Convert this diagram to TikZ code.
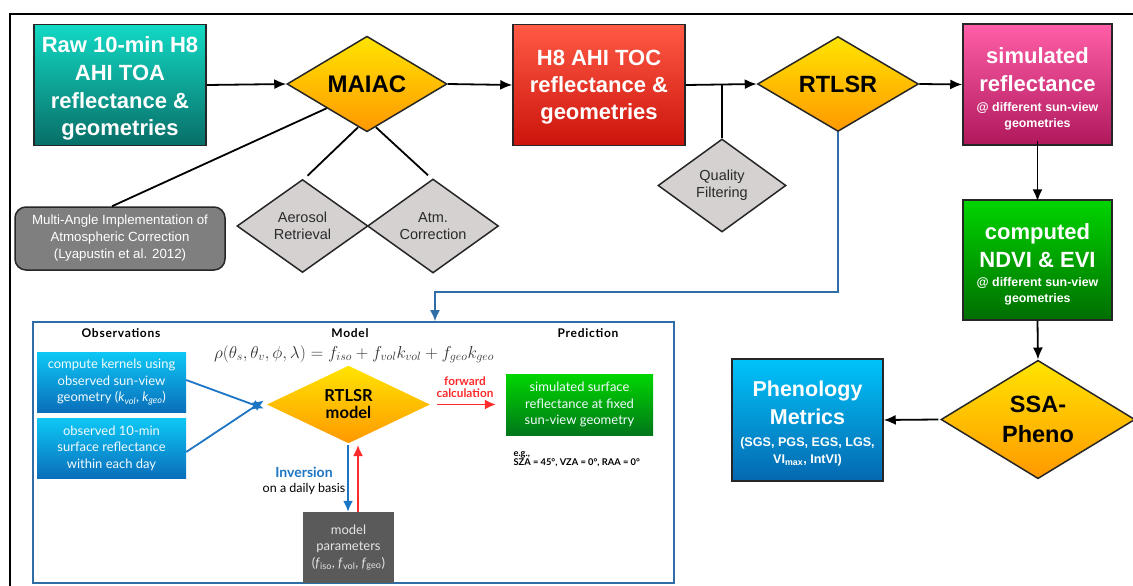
\documentclass[tikz,border=0pt]{standalone}
\usepackage{fontspec}
\setmainfont{Liberation Sans}
\newfontfamily\gill{Lato}
\newfontfamily\gillhead[LetterSpace=6]{Lato}
\usetikzlibrary{shapes.geometric,arrows.meta,calc}
\definecolor{tealTop}{HTML}{12D9C4}
\definecolor{tealBot}{HTML}{086E67}
\definecolor{redTop}{HTML}{FF5A45}
\definecolor{redBot}{HTML}{CC140C}
\definecolor{pinkTop}{HTML}{FF5FA8}
\definecolor{pinkBot}{HTML}{B0185C}
\definecolor{greenTop}{HTML}{00D400}
\definecolor{greenBot}{HTML}{006E00}
\definecolor{blueTop}{HTML}{00C3F9}
\definecolor{blueBot}{HTML}{0568B0}
\definecolor{yTop}{HTML}{FFE400}
\definecolor{yBot}{HTML}{FF9800}
\definecolor{gdiam}{HTML}{D5D1D1}
\definecolor{multigray}{HTML}{7F7F7F}
\definecolor{panelblue}{HTML}{2F6DA6}
\definecolor{arrowblue}{HTML}{1B75C4}
\definecolor{fwdred}{HTML}{FF2A2A}
\definecolor{paramgray}{HTML}{5A5A5A}
\definecolor{sbTop}{HTML}{0DC8F5}
\definecolor{sbBot}{HTML}{0A6EBB}
\definecolor{sgTop}{HTML}{00D600}
\definecolor{sgBot}{HTML}{00771A}
\definecolor{dtext}{HTML}{2A2A2A}
\begin{document}
\begin{tikzpicture}[x=1pt,y=-1pt,
  bigbox/.style={draw=black!85, line width=1.5pt, inner sep=0pt},
  title/.style={anchor=north, align=center, text=white, inner sep=0pt,
    font=\bfseries\fontsize{22}{27.7}\selectfont},
  subtitle/.style={anchor=north, align=center, text=white, inner sep=0pt,
    font=\bfseries\fontsize{12.4}{16}\selectfont},
  ydiam/.style={diamond, draw=black!85, line width=1.5pt, inner sep=0pt, align=center,
    top color=yTop, bottom color=yBot, text=black},
  gdiamond/.style={diamond, draw=black!85, line width=1.5pt, inner sep=0pt, align=center,
    fill=gdiam, text=dtext, font=\fontsize{14.5}{17}\selectfont},
  conn/.style={line width=1.8pt, black},
  arr/.style={conn, -{Latex[length=12pt,width=10pt]}},
  bluearr/.style={line width=1.8pt, arrowblue, -{Latex[length=11pt,width=10pt]}},
  redarr/.style={line width=1.8pt, fwdred, -{Latex[length=11pt,width=10pt]}},
  sbox/.style={align=center, inner sep=0pt, text=white!95!cyan, font=\gill\fontsize{13}{16.5}\selectfont},
  head/.style={font=\gillhead\bfseries\fontsize{12}{13}\selectfont, text=black}
]
\useasboundingbox (0,0) rectangle (1133,586);
\draw[line width=1.8pt] (10,586) -- (10,14) -- (1133,14);

% top row
\node[bigbox, top color=tealTop, bottom color=tealBot, minimum width=172pt, minimum height=121pt] (raw) at (120,85) {};
\node[title] (rawT) at (120,36.5) {Raw 10-min H8\\AHI TOA\\reflectance \&\\geometries};
\node[ydiam, minimum width=160pt, minimum height=91pt, font=\bfseries\fontsize{24}{28}\selectfont] (maiac) at (367,84) {MAIAC};
\node[bigbox, top color=redTop, bottom color=redBot, minimum width=172pt, minimum height=121pt] (toc) at (599,85) {};
\node[title, font=\bfseries\fontsize{22}{27}\selectfont] (tocT) at (599,50) {H8 AHI TOC\\reflectance \&\\geometries};
\node[ydiam, minimum width=161pt, minimum height=92pt, font=\bfseries\fontsize{23.5}{28}\selectfont] (rtlsr) at (838,84) {RTLSR};
\node[bigbox, top color=pinkTop, bottom color=pinkBot, minimum width=149pt, minimum height=121pt] (sim) at (1037.5,84.5) {};
\node[title, font=\bfseries\fontsize{22}{28.5}\selectfont] (simT) at (1037.5,47) {simulated\\reflectance};
\node[subtitle] (simS) at (1037.5,102) {@ different sun-view\\geometries};
\node[bigbox, top color=greenTop, bottom color=greenBot, minimum width=149pt, minimum height=120pt] (comp) at (1037.5,260) {};
\node[title, font=\bfseries\fontsize{22}{28}\selectfont] (compT) at (1037.5,223) {computed\\NDVI \& EVI};
\node[subtitle] (compS) at (1037.5,277) {@ different sun-view\\geometries};
\node[ydiam, minimum width=194pt, minimum height=109pt, font=\bfseries\fontsize{23.5}{30}\selectfont] (ssa) at (1038,419.5) {SSA-\\Pheno};
\node[bigbox, top color=blueTop, bottom color=blueBot, minimum width=151pt, minimum height=122pt] (phen) at (807.5,420) {};
\node[title, font=\bfseries\fontsize{21.5}{27.5}\selectfont] (phenT) at (807.5,381) {Phenology\\Metrics};
\node[subtitle, font=\bfseries\fontsize{12.6}{16.5}\selectfont] (phenS) at (807.5,437.5) {(SGS, PGS, EGS, LGS,\\VI\textsubscript{max}, IntVI)};

% side nodes
\node[draw=black!85, line width=1.5pt, rounded corners=11pt, fill=multigray, text=white, align=center,
  minimum width=210pt, minimum height=63pt, inner sep=0pt, font=\fontsize{13.3}{17}\selectfont] (multi) at (120,238.5)
  {Multi-Angle Implementation of\\Atmospheric Correction\\(Lyapustin et al. 2012)};
\node[gdiamond, minimum width=131pt, minimum height=93pt] (aero) at (302.5,226) {Aerosol\\Retrieval};
\node[gdiamond, minimum width=131pt, minimum height=93pt] (atm) at (433,226) {Atm.\\Correction};
\node[gdiamond, minimum width=128pt, minimum height=93pt] (qual) at (722,185.5) {Quality\\Filtering};

% top connectors
\draw[arr] (raw.east) -- (maiac.west);
\draw[arr] (maiac.east) -- (toc.west);
\draw[arr] (toc.east) -- (rtlsr.west);
\draw[arr] (rtlsr.east) -- (sim.west);
\draw[arr] ([yshift=5pt]sim.south) -- ([yshift=-2pt]comp.north);
\draw[arr] (comp.south) -- (ssa.north);
\draw[arr] ([xshift=-2pt]ssa.west) -- (phen.east);
\draw[conn] (maiac.south west) -- ([xshift=-8pt]multi.north);
\draw[conn] ($(maiac.south)!0.11!(maiac.west)$) -- ([xshift=5pt,yshift=3pt]aero.north);
\draw[conn] ($(maiac.south)!0.11!(maiac.east)$) -- ([xshift=-5pt,yshift=3pt]atm.north);
\draw[conn] (qual.north) -- (qual.north |- toc.east);

% panel
\node[draw=panelblue, line width=1.8pt, minimum width=641pt, minimum height=261pt, inner sep=0pt] (panel) at (353.5,452.5) {};
\coordinate (bend) at (435,292);
\draw[line width=1.5pt, panelblue, -{Latex[length=11pt,width=10pt]}] (rtlsr.south) |- (bend) -- (bend |- panel.north);

\node[head] (hobs) at (121,333) {Observations};
\node[head] (hmod) at (350,333) {Model};
\node[head] (hpred) at (588,333) {Prediction};
\node[text=black!80, font=\fontsize{16.5}{18}\selectfont] (formula) at (354,354)
  {$\rho(\theta_s, \theta_v, \phi, \lambda) = f_{iso} + f_{vol}k_{vol} + f_{geo}k_{geo}$};

\node[sbox, top color=sbTop, bottom color=sbBot, minimum width=149pt, minimum height=60pt] (kern) at (111.5,382)
  {compute kernels using\\observed sun-view\\geometry (\textit{k}\textsubscript{\textit{vol}}, \textit{k}\textsubscript{\textit{geo}})};
\node[sbox, top color=sbTop, bottom color=sbBot, minimum width=149pt, minimum height=60pt] (obs) at (111.5,448)
  {observed 10-min\\surface reflectance\\within each day};
\node[diamond, inner sep=0pt, top color=yTop, bottom color=yBot, minimum width=163pt, minimum height=71pt, align=center,
  font=\gill\bfseries\fontsize{16.5}{17}\selectfont] (rmod) at (348.5,404.5) {RTLSR\\model};
\node[sbox, top color=sgTop, bottom color=sgBot, minimum width=147pt, minimum height=61pt] (ssurf) at (579.5,404.5)
  {simulated surface\\reflectance at fixed\\sun-view geometry};
\node[sbox, fill=paramgray, minimum width=91pt, minimum height=71pt, text=white!90!black] (param) at (348.5,547.5)
  {model\\parameters\\(\textit{f}\textsubscript{iso}, \textit{f}\textsubscript{vol}, \textit{f}\textsubscript{geo})};

\draw[bluearr] (kern.east |- 0,380) -- ([xshift=-3pt,yshift=-4pt]rmod.west);
\draw[bluearr] (obs.east |- 0,452) -- ([xshift=-3pt,yshift=4pt]rmod.west);
\draw[redarr] ([xshift=7pt]rmod.east) -- ([xshift=-10pt]ssurf.west);
\node[text=fwdred, align=center, font=\gill\bfseries\fontsize{11.8}{12.5}\selectfont] (fwd) at (465,387) {forward\\calculation};
\coordinate (invtop) at (348,445);
\coordinate (invtopr) at (358,445);
\draw[bluearr] (invtop) -- (invtop |- param.north);
\draw[redarr] (invtopr |- param.north) -- (invtopr);
\node[align=center, font=\gill\fontsize{12.5}{15.5}\selectfont] (inv) at (304,481)
  {\textcolor{arrowblue}{\bfseries\fontsize{14}{15.5}\selectfont Inversion}\\on a daily basis};
\node[align=left, anchor=west, font=\gill\bfseries\fontsize{9.3}{9}\selectfont] (eg) at (510,459)
  {e.g.,\\SZA = 45°, VZA = 0°, RAA = 0°};
\end{tikzpicture}
\end{document}
